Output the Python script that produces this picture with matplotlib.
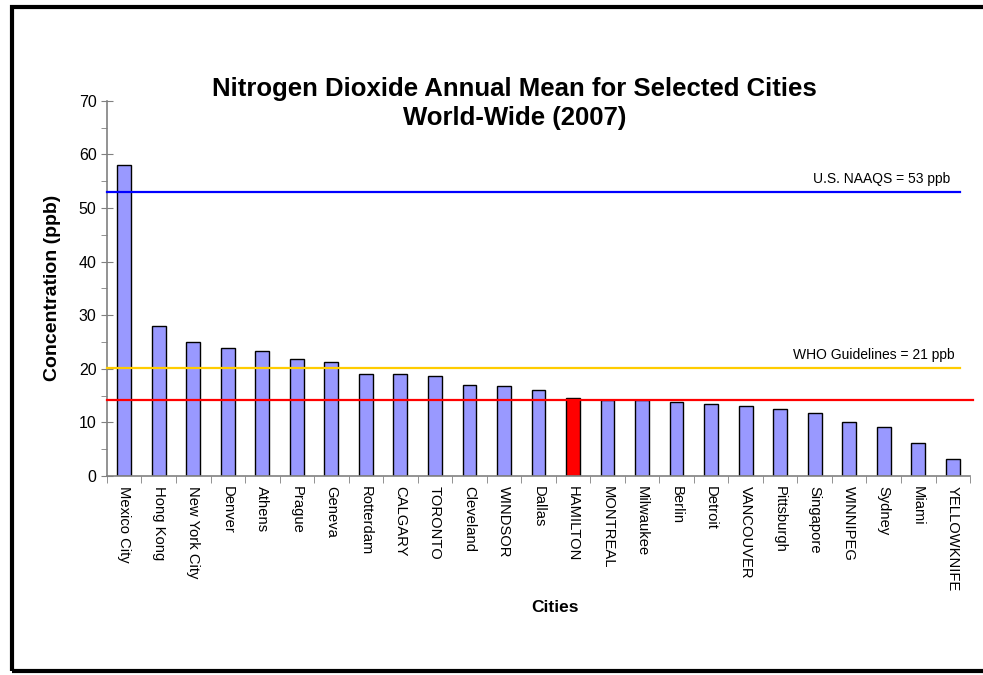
import matplotlib.pyplot as plt
import numpy as np
from matplotlib.patches import Rectangle
from matplotlib.ticker import MultipleLocator, FixedLocator

plt.rcParams['font.family'] = ['Liberation Sans', 'DejaVu Sans']

cities = ['Mexico City', 'Hong Kong', 'New York City', 'Denver', 'Athens', 'Prague',
          'Geneva', 'Rotterdam', 'CALGARY', 'TORONTO', 'Cleveland', 'WINDSOR', 'Dallas',
          'HAMILTON', 'MONTREAL', 'Milwaukee', 'Berlin', 'Detroit', 'VANCOUVER',
          'Pittsburgh', 'Singapore', 'WINNIPEG', 'Sydney', 'Miami', 'YELLOWKNIFE']
no2 = [58.0, 28.0, 25.0, 23.9, 23.3, 21.8, 21.2, 19.0, 19.0, 18.6, 17.0, 16.7, 16.0,
       14.5, 14.1, 14.1, 13.8, 13.5, 13.0, 12.5, 11.8, 10.1, 9.1, 6.2, 3.1]
highlight = 'HAMILTON'

naaqs = 53
who = 20.2
hamilton_line = 14.1

fig = plt.figure(figsize=(9.83, 6.75), dpi=100)
ax = fig.add_axes([0.1088, 0.2948, 0.878, 0.556])

x = np.arange(len(cities))
colors = ['#FF0000' if c == highlight else '#9999FF' for c in cities]
ax.bar(x, no2, width=0.4, color=colors, edgecolor='black', linewidth=1, zorder=2)

ax.plot([-0.5, 24.2], [naaqs, naaqs], color='#0000FF', lw=1.6, zorder=3, clip_on=False)
ax.plot([-0.5, 24.2], [who, who], color='#FFCC00', lw=1.6, zorder=3, clip_on=False)
ax.plot([-0.5, 24.6], [hamilton_line, hamilton_line], color='#FF0000', lw=1.6, zorder=3, clip_on=False)
ax.text(23.92, naaqs + 1.1, 'U.S. NAAQS = 53 ppb', ha='right', va='bottom', fontsize=10)
ax.text(24.05, who + 1.1, 'WHO Guidelines = 21 ppb', ha='right', va='bottom', fontsize=10)

ax.set_xlim(-0.5, 24.5)
ax.set_ylim(0, 70)
ax.yaxis.set_major_locator(MultipleLocator(10))
ax.yaxis.set_minor_locator(MultipleLocator(5))
ax.set_xticks(x)
ax.set_xticklabels(cities, rotation=-90, fontsize=10.6)
ax.xaxis.set_minor_locator(FixedLocator(np.arange(-0.5, 25, 1)))
ax.tick_params(axis='x', which='major', length=0, pad=7)
ax.tick_params(axis='x', which='minor', length=5, direction='out', color='#808080')
ax.tick_params(axis='y', which='major', length=8, direction='inout', color='#808080', labelsize=11.5)
ax.tick_params(axis='y', which='minor', length=4, direction='out', color='#808080')

for s in ['top', 'right']:
    ax.spines[s].set_visible(False)
for s in ['left', 'bottom']:
    ax.spines[s].set_color('#808080')
    ax.spines[s].set_linewidth(1.2)

ax.set_ylabel('Concentration (ppb)', fontsize=14, fontweight='bold', labelpad=13)
fig.text(0.5646, 1 - 607 / 675, 'Cities', ha='center', va='center', fontsize=12.5, fontweight='bold')
fig.text(514.5 / 983, 1 - 103.5 / 675, 'Nitrogen Dioxide Annual Mean for Selected Cities\nWorld-Wide (2007)',
         ha='center', va='center', fontsize=18.5, fontweight='bold', linespacing=1.28)

fig.patches.append(Rectangle((11.5 / 983, 1 - 671 / 675), 1.05, (671 - 7) / 675,
                             transform=fig.transFigure, fill=False, edgecolor='black',
                             linewidth=3, clip_on=False))

fig.savefig('out.png', dpi=100)
